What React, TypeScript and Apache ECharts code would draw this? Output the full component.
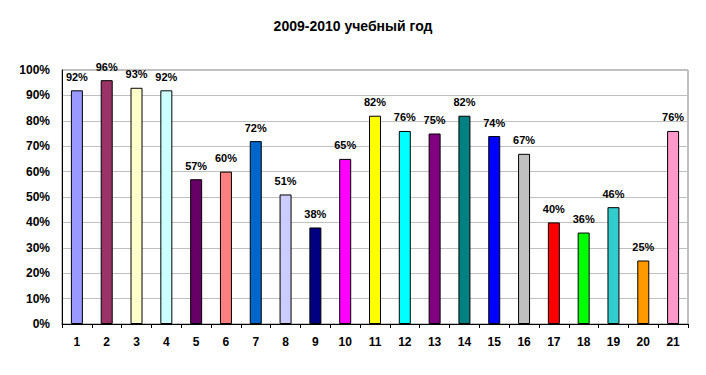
import React, { useEffect, useRef } from "react";
import * as echarts from "echarts";

const categories = ["1","2","3","4","5","6","7","8","9","10","11","12","13","14","15","16","17","18","19","20","21"];
const values = [92,96,93,92,57,60,72,51,38,65,82,76,75,82,74,67,40,36,46,25,76];
const colors = ["#9999FF","#993366","#FFFFCC","#CCFFFF","#660066","#FF8080","#0066CC","#CCCCFF","#000080","#FF00FF","#FFFF00","#00FFFF","#800080","#008080","#0000FF","#C0C0C0","#FF0000","#00FF00","#33CCCC","#FF9900","#FF99CC"];
const yTicks = [0,10,20,30,40,50,60,70,80,90,100];

export default function App() {
  const ref = useRef<HTMLDivElement>(null);
  useEffect(() => {
    document.body.style.margin = "0";
    const chart = echarts.init(ref.current!, null, { renderer: "svg" });
    const font = "Arial, 'Liberation Sans', sans-serif";
    chart.setOption({
      animation: false,
      backgroundColor: "#ffffff",
      title: {
        text: "2009-2010 учебный год",
        left: "center",
        top: 14,
        textStyle: { fontFamily: font, fontWeight: "bold", fontSize: 14, color: "#000" },
      },
      grid: { left: 62, right: 18, top: 70, bottom: 51, show: true, borderColor: "#808080", borderWidth: 1 },
      xAxis: {
        type: "category",
        data: categories,
        boundaryGap: true,
        axisLine: { lineStyle: { color: "#000", width: 1 } },
        axisTick: { show: true, length: 4, lineStyle: { color: "#000" }, alignWithLabel: false },
        axisLabel: { fontFamily: font, fontWeight: "bold", fontSize: 12, color: "#000", margin: 12 },
      },
      yAxis: {
        type: "value",
        min: yTicks[0],
        max: yTicks[yTicks.length - 1],
        interval: 10,
        axisLine: { show: true, lineStyle: { color: "#000", width: 1 } },
        axisTick: { show: false },
        splitLine: { lineStyle: { color: "#C0C0C0", width: 1 } },
        axisLabel: { fontFamily: font, fontWeight: "bold", fontSize: 12, color: "#000", margin: 12, formatter: "{value}%" },
      },
      series: [
        {
          type: "bar",
          barWidth: 12,
          data: values.map((v, i) => ({
            value: v,
            itemStyle: { color: colors[i], borderColor: "#000", borderWidth: 1 },
          })),
          label: {
            show: true,
            position: "top",
            distance: 8,
            formatter: "{c}%",
            fontFamily: font,
            fontWeight: "bold",
            fontSize: 11,
            color: "#000",
          },
        },
      ],
    });
    return () => chart.dispose();
  }, []);
  return <div ref={ref} style={{ width: 706, height: 375 }} />;
}
